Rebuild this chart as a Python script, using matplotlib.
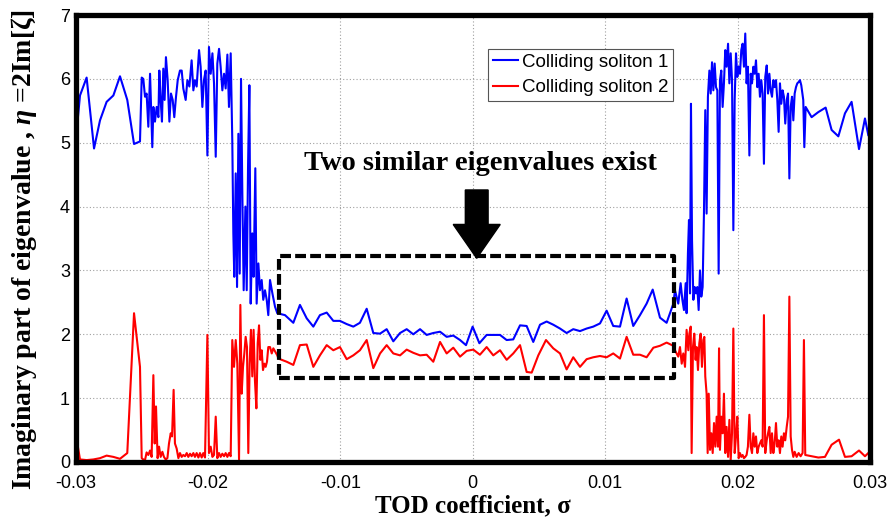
import matplotlib
matplotlib.use("Agg")
import matplotlib.pyplot as plt
from matplotlib.patches import Rectangle, FancyArrow

# ---------------- data ----------------
# Colliding soliton 1 (blue)
blue_left_sigma = [-0.02986, -0.02966, -0.02916, -0.02860, -0.02815, -0.02765, -0.02714, -0.02664, -0.02609, -0.02558,
                   -0.02513, -0.02500, -0.02488, -0.02475, -0.02463, -0.02450, -0.02437, -0.02420, -0.02412, -0.02400,
                   -0.02387, -0.02374, -0.02367, -0.02357, -0.02347, -0.02337, -0.02327, -0.02317, -0.02304, -0.02291,
                   -0.02279, -0.02266, -0.02254, -0.02241, -0.02228, -0.02211, -0.02198, -0.02186, -0.02168, -0.02155,
                   -0.02140, -0.02123, -0.02110, -0.02098, -0.02085, -0.02067, -0.02055, -0.02042, -0.02030, -0.02017,
                   -0.02004, -0.01992, -0.01979, -0.01966, -0.01954, -0.01941, -0.01929, -0.01916, -0.01904, -0.01891,
                   -0.01878, -0.01866, -0.01853, -0.01841, -0.01828, -0.01816, -0.01808, -0.01801, -0.01790, -0.01780,
                   -0.01770, -0.01760, -0.01750, -0.01740, -0.01730, -0.01717, -0.01707, -0.01697, -0.01687, -0.01677,
                   -0.01665, -0.01655, -0.01642, -0.01632, -0.01619, -0.01607, -0.01594, -0.01582, -0.01569, -0.01556,
                   -0.01544, -0.01531, -0.01513, -0.01493, -0.01476]
blue_left_eta = [5.30, 5.74, 6.02, 4.91, 5.35, 5.64, 5.74, 6.04, 5.67, 4.98,
                 5.02, 6.02, 6.00, 5.72, 5.77, 5.25, 6.08, 4.93, 5.56, 5.33,
                 5.56, 5.40, 6.13, 5.67, 5.33, 6.16, 5.67, 6.34, 5.98, 5.33,
                 5.77, 5.67, 5.40, 5.72, 5.98, 6.13, 6.13, 5.85, 5.67, 5.98,
                 5.88, 6.29, 5.82, 5.98, 5.88, 6.45, 6.19, 5.56, 5.98, 6.13,
                 4.80, 6.50, 6.08, 6.40, 5.93, 4.78, 6.24, 6.47, 6.19, 5.82,
                 6.08, 5.85, 6.38, 5.56, 6.40, 5.04, 3.58, 2.90, 4.52, 2.74,
                 5.14, 2.95, 6.00, 4.20, 2.69, 4.00, 2.69, 4.62, 5.90, 2.48,
                 3.58, 2.90, 4.60, 2.48, 3.11, 2.69, 2.85, 2.54, 2.69, 2.54,
                 2.30, 2.85, 2.64, 2.43, 2.33]

blue_mid_sigma = [-0.01418, -0.01355, -0.01305, -0.01254, -0.01204, -0.01154, -0.01103, -0.01053, -0.01003, -0.00952,
                  -0.00902, -0.00852, -0.00801, -0.00751, -0.00700, -0.00650, -0.00600, -0.00549, -0.00499, -0.00449,
                  -0.00398, -0.00348, -0.00298, -0.00247, -0.00197, -0.00147, -0.00096, -0.00051, -0.00001, 0.00050,
                  0.00105, 0.00155, 0.00206, 0.00256, 0.00306, 0.00357, 0.00407, 0.00457, 0.00508, 0.00558,
                  0.00608, 0.00659, 0.00709, 0.00759, 0.00810, 0.00860, 0.00910, 0.00961, 0.01011, 0.01061,
                  0.01112, 0.01162, 0.01212, 0.01263, 0.01313, 0.01359, 0.01414, 0.01464, 0.01515]
blue_mid_eta = [2.30, 2.18, 2.46, 2.25, 2.12, 2.30, 2.34, 2.21, 2.21, 2.16,
                2.12, 2.18, 2.40, 2.02, 2.01, 2.08, 1.89, 2.02, 2.08, 2.00,
                2.08, 1.99, 2.02, 2.04, 1.96, 1.98, 1.91, 1.83, 2.12, 1.86,
                1.99, 1.99, 1.99, 1.91, 1.92, 2.14, 2.13, 1.88, 2.15, 2.20,
                2.15, 2.09, 2.02, 2.08, 2.05, 2.09, 2.12, 2.17, 2.37, 2.13,
                2.12, 2.56, 2.13, 2.30, 2.48, 2.70, 2.26, 2.18, 2.48]

blue_right_sigma = [0.01527, 0.01552, 0.01570, 0.01583, 0.01595, 0.01608, 0.01615, 0.01625, 0.01633, 0.01641,
                    0.01648, 0.01656, 0.01666, 0.01676, 0.01686, 0.01696, 0.01706, 0.01716, 0.01726, 0.01736,
                    0.01746, 0.01756, 0.01766, 0.01776, 0.01787, 0.01797, 0.01807, 0.01817, 0.01827, 0.01837,
                    0.01847, 0.01857, 0.01867, 0.01877, 0.01887, 0.01897, 0.01907, 0.01917, 0.01928, 0.01938,
                    0.01948, 0.01958, 0.01968, 0.01978, 0.01988, 0.01998, 0.02008, 0.02018, 0.02028, 0.02038,
                    0.02048, 0.02058, 0.02068, 0.02078, 0.02089, 0.02099, 0.02109, 0.02119, 0.02129, 0.02139,
                    0.02149, 0.02159, 0.02169, 0.02179, 0.02189, 0.02199, 0.02209, 0.02220, 0.02230, 0.02240,
                    0.02250, 0.02260, 0.02270, 0.02280, 0.02290, 0.02300, 0.02310, 0.02320, 0.02330, 0.02340,
                    0.02350, 0.02360, 0.02371, 0.02381, 0.02391, 0.02401, 0.02411, 0.02421, 0.02431, 0.02441,
                    0.02451, 0.02461, 0.02471, 0.02481, 0.02496, 0.02504, 0.02514, 0.02559, 0.02610, 0.02665,
                    0.02710, 0.02761, 0.02811, 0.02861, 0.02917, 0.02962, 0.02987]
blue_right_eta = [2.69, 2.48, 2.80, 2.54, 2.38, 2.80, 2.33, 3.27, 3.79, 2.64,
                  5.61, 3.47, 2.54, 2.74, 2.64, 2.74, 2.38, 3.00, 2.59, 2.74,
                  3.89, 5.51, 3.89, 5.72, 6.13, 5.77, 6.26, 5.82, 6.24, 5.87,
                  5.82, 2.95, 5.98, 6.13, 5.56, 5.93, 6.45, 6.19, 6.55, 5.93,
                  6.40, 5.98, 3.63, 5.67, 6.40, 6.03, 6.19, 6.08, 6.45, 6.55,
                  6.19, 6.71, 5.93, 6.19, 4.80, 6.08, 5.93, 6.19, 6.08, 6.29,
                  5.87, 6.08, 5.72, 5.98, 5.77, 4.67, 6.03, 6.21, 5.77, 6.08,
                  5.82, 5.72, 5.98, 5.87, 5.98, 5.67, 5.17, 5.93, 5.61, 5.82,
                  5.72, 5.30, 5.67, 5.77, 4.44, 5.56, 5.72, 5.35, 5.77, 5.87,
                  5.93, 5.95, 5.98, 5.90, 5.67, 4.93, 5.56, 5.40, 5.48, 5.55,
                  5.20, 5.10, 5.46, 5.64, 4.90, 5.38, 5.12]

# Colliding soliton 2 (red)
red_left_sigma = [-0.02986, -0.02966, -0.02916, -0.02865, -0.02815, -0.02765, -0.02714, -0.02664, -0.02609, -0.02558,
                  -0.02513, -0.02500, -0.02488, -0.02475, -0.02463, -0.02450, -0.02437, -0.02425, -0.02412, -0.02402,
                  -0.02392, -0.02380, -0.02369, -0.02357, -0.02344, -0.02332, -0.02319, -0.02306, -0.02294, -0.02281,
                  -0.02271, -0.02259, -0.02249, -0.02236, -0.02223, -0.02211, -0.02198, -0.02186, -0.02173, -0.02160,
                  -0.02148, -0.02135, -0.02123, -0.02110, -0.02098, -0.02085, -0.02072, -0.02060, -0.02047, -0.02035,
                  -0.02022, -0.02004, -0.01992, -0.01979, -0.01966, -0.01954, -0.01941, -0.01929, -0.01916, -0.01904,
                  -0.01891, -0.01878, -0.01866, -0.01853, -0.01841, -0.01828, -0.01816, -0.01803, -0.01790, -0.01778,
                  -0.01765, -0.01755, -0.01745, -0.01735, -0.01725, -0.01715, -0.01705, -0.01695, -0.01685, -0.01675,
                  -0.01665, -0.01655, -0.01645, -0.01634, -0.01624, -0.01614, -0.01604, -0.01594, -0.01584, -0.01574,
                  -0.01564, -0.01554, -0.01544, -0.01531, -0.01518, -0.01506, -0.01476]
red_left_eta = [0.29, 0.04, 0.03, 0.04, 0.06, 0.10, 0.08, 0.05, 0.14, 2.33,
                1.49, 0.06, 0.04, 0.03, 0.15, 0.11, 0.18, 0.08, 1.36, 0.29,
                0.87, 0.06, 0.24, 0.08, 0.16, 0.08, 0.04, 0.06, 0.29, 0.45,
                0.40, 1.13, 0.29, 0.21, 0.06, 0.14, 0.08, 0.11, 0.09, 0.14,
                0.08, 0.13, 0.09, 0.14, 0.08, 0.14, 0.07, 0.14, 0.07, 0.14,
                0.07, 1.99, 0.14, 0.24, 0.08, 0.11, 0.71, 0.06, 0.14, 0.08,
                0.13, 0.09, 0.14, 0.08, 0.14, 0.09, 1.91, 1.49, 1.91, 1.54,
                0.04, 2.46, 1.07, 1.49, 1.70, 1.96, 1.80, 0.14, 1.54, 2.07,
                1.34, 2.07, 1.28, 0.84, 1.86, 2.14, 1.60, 1.75, 1.44, 1.54,
                1.49, 1.57, 1.80, 1.80, 1.70, 1.78, 1.67]

red_mid_sigma = [-0.01468, -0.01405, -0.01355, -0.01305, -0.01254, -0.01204, -0.01154, -0.01103, -0.01053, -0.01003,
                 -0.00952, -0.00902, -0.00852, -0.00801, -0.00751, -0.00700, -0.00650, -0.00600, -0.00549, -0.00499,
                 -0.00449, -0.00398, -0.00348, -0.00298, -0.00247, -0.00197, -0.00147, -0.00096, -0.00046, 0.00004,
                 0.00054, 0.00105, 0.00155, 0.00206, 0.00256, 0.00306, 0.00357, 0.00407, 0.00445, 0.00495,
                 0.00553, 0.00608, 0.00659, 0.00709, 0.00759, 0.00810, 0.00860, 0.00910, 0.00961, 0.01011,
                 0.01061, 0.01112, 0.01162, 0.01212, 0.01263, 0.01313, 0.01364, 0.01414, 0.01464, 0.01515]
red_mid_eta = [1.62, 1.57, 1.52, 1.83, 1.84, 1.49, 1.67, 1.83, 1.75, 1.80,
               1.61, 1.67, 1.75, 1.91, 1.47, 1.70, 1.83, 1.70, 1.67, 1.76,
               1.71, 1.67, 1.68, 1.57, 1.88, 1.70, 1.79, 1.65, 1.74, 1.76,
               1.68, 1.80, 1.67, 1.75, 1.60, 1.70, 1.83, 1.41, 1.40, 1.67,
               1.91, 1.78, 1.70, 1.45, 1.64, 1.49, 1.61, 1.64, 1.66, 1.64,
               1.70, 1.62, 1.96, 1.68, 1.68, 1.64, 1.79, 1.82, 1.87, 1.82]

red_right_sigma = [0.01527, 0.01552, 0.01565, 0.01578, 0.01590, 0.01603, 0.01615, 0.01628, 0.01636, 0.01646,
                   0.01653, 0.01663, 0.01673, 0.01683, 0.01691, 0.01701, 0.01711, 0.01721, 0.01731, 0.01741,
                   0.01749, 0.01756, 0.01766, 0.01774, 0.01782, 0.01792, 0.01802, 0.01812, 0.01822, 0.01832,
                   0.01842, 0.01852, 0.01860, 0.01867, 0.01877, 0.01887, 0.01897, 0.01907, 0.01917, 0.01928,
                   0.01938, 0.01948, 0.01958, 0.01968, 0.01978, 0.01988, 0.01998, 0.02008, 0.02018, 0.02028,
                   0.02038, 0.02048, 0.02058, 0.02068, 0.02078, 0.02089, 0.02099, 0.02109, 0.02119, 0.02129,
                   0.02139, 0.02149, 0.02159, 0.02169, 0.02179, 0.02189, 0.02199, 0.02209, 0.02220, 0.02230,
                   0.02240, 0.02250, 0.02260, 0.02270, 0.02280, 0.02290, 0.02300, 0.02310, 0.02320, 0.02330,
                   0.02340, 0.02350, 0.02360, 0.02371, 0.02381, 0.02391, 0.02401, 0.02411, 0.02421, 0.02431,
                   0.02446, 0.02461, 0.02476, 0.02491, 0.02501, 0.02511, 0.02559, 0.02610, 0.02660, 0.02710,
                   0.02766, 0.02811, 0.02861, 0.02917, 0.02962, 0.02987]
red_right_eta = [1.75, 1.65, 1.80, 1.54, 1.70, 1.49, 2.07, 1.75, 2.01, 2.12,
                 0.14, 1.80, 2.01, 1.60, 1.80, 1.44, 1.86, 2.01, 1.49, 1.91,
                 1.96, 1.34, 1.07, 0.14, 1.07, 0.19, 0.45, 0.14, 0.61, 0.24,
                 0.71, 0.24, 1.78, 0.19, 0.71, 0.45, 1.07, 0.14, 0.55, 0.08,
                 0.66, 0.03, 0.45, 2.09, 0.14, 0.40, 0.71, 0.06, 0.14, 0.08,
                 0.11, 0.06, 0.08, 0.11, 0.24, 0.74, 0.24, 0.14, 0.45, 0.24,
                 0.40, 0.14, 0.24, 0.29, 0.34, 0.24, 2.30, 0.14, 0.34, 0.45,
                 0.55, 0.14, 0.45, 0.14, 0.29, 0.61, 0.24, 0.34, 0.14, 0.40,
                 0.24, 0.45, 0.34, 0.55, 0.71, 2.59, 0.40, 0.19, 0.08, 0.16,
                 0.08, 0.14, 0.09, 0.14, 1.91, 0.11, 0.09, 0.07, 0.08, 0.27,
                 0.35, 0.08, 0.09, 0.18, 0.09, 0.14]

x_ticks = [-0.03, -0.02, -0.01, 0, 0.01, 0.02, 0.03]
x_tick_labels = ["-0.03", "-0.02", "-0.01", "0", "0.01", "0.02", "0.03"]
y_ticks = [0, 1, 2, 3, 4, 5, 6, 7]
series_labels = ["Colliding soliton 1", "Colliding soliton 2"]
annotation_text = "Two similar eigenvalues exist"
box_sigma = (-0.0146, 0.0152)
box_eta = (1.31, 3.23)

# ---------------- figure ----------------
plt.rcParams["mathtext.fontset"] = "custom"
plt.rcParams["mathtext.rm"] = "Liberation Serif:bold"
plt.rcParams["mathtext.it"] = "Liberation Serif:italic:bold"
plt.rcParams["mathtext.bf"] = "Liberation Serif:bold"

fig = plt.figure(figsize=(8.93, 5.23), dpi=100)
ax = fig.add_axes([75.5 / 893, 61 / 523, 794.5 / 893, 447 / 523])

blue_sigma = blue_left_sigma + blue_mid_sigma + blue_right_sigma
blue_eta = blue_left_eta + blue_mid_eta + blue_right_eta
red_sigma = red_left_sigma + red_mid_sigma + red_right_sigma
red_eta = red_left_eta + red_mid_eta + red_right_eta

ax.plot(blue_sigma, blue_eta, color="#0000ff", lw=1.5, label=series_labels[0], zorder=3)
ax.plot(red_sigma, red_eta, color="#ff0000", lw=1.5, label=series_labels[1], zorder=3)

ax.set_xlim(-0.03, 0.03)
ax.set_ylim(0, 7)
ax.set_xticks(x_ticks)
ax.set_xticklabels(x_tick_labels)
ax.set_yticks(y_ticks)
ax.tick_params(length=0, labelsize=13, pad=4)
ax.tick_params(axis="x", pad=9)
for lab in ax.get_xticklabels() + ax.get_yticklabels():
    lab.set_fontfamily("Liberation Sans")

ax.grid(True, color="#a0a0a0", lw=0.8, linestyle=(0, (1, 2)), zorder=0)
ax.set_axisbelow(True)
for sp in ax.spines.values():
    sp.set_linewidth(3.8)
    sp.set_zorder(6)

# dashed highlight box
rect = Rectangle((box_sigma[0], box_eta[0]), box_sigma[1] - box_sigma[0], box_eta[1] - box_eta[0],
                 fill=False, edgecolor="black", lw=3.0, linestyle=(0, (2.6, 1.0)), zorder=4,
                 joinstyle="round")
ax.add_patch(rect)

# arrow
arrow = FancyArrow(0.0003, 4.26, 0, 3.19 - 4.26, width=0.00172, head_width=0.00355,
                   head_length=0.53, length_includes_head=True, color="black", zorder=5)
ax.add_patch(arrow)

ax.text(0.00055, 4.68, annotation_text, ha="center", va="center", fontsize=20.5,
        fontweight="bold", family="Liberation Serif", zorder=5)

leg = ax.legend(loc="upper left", bbox_to_anchor=(0.519, 0.924), borderaxespad=0,
                fancybox=False, framealpha=1, edgecolor="#555555",
                prop={"family": "Liberation Sans", "size": 13.5},
                handlelength=1.35, handletextpad=0.2, borderpad=0.25, labelspacing=0.45)
leg.get_frame().set_linewidth(0.8)
leg.set_zorder(7)

fig.text(24 / 893, 1 - 250 / 523, r"Imaginary part of eigenvalue , $\eta$ =2Im[ζ]",
         rotation=90, ha="center", va="center", fontsize=20, fontweight="bold",
         family="Liberation Serif")
fig.text(473 / 893, 1 - 506 / 523, "TOD coefficient, σ", ha="center", va="center",
         fontsize=18, fontweight="bold", family="Liberation Serif")

fig.savefig("out.png", dpi=100)
